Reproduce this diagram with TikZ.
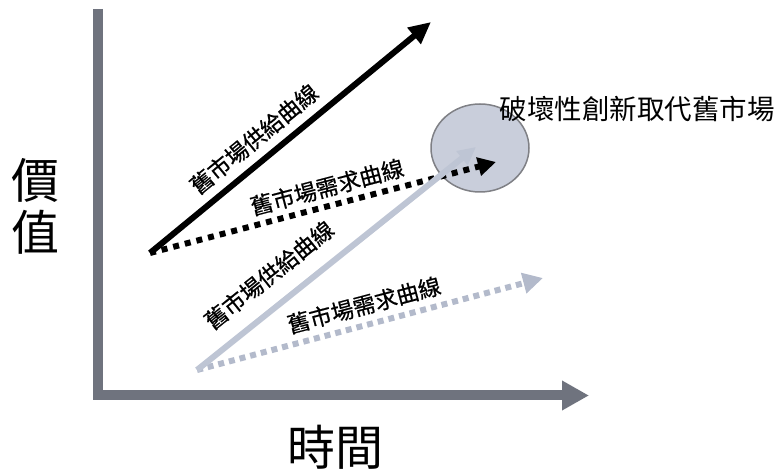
\documentclass[tikz,border=0pt]{standalone}
\usepackage{fontspec}
\setmainfont{Noto Sans CJK TC}
\newfontfamily\curvefont[FakeBold=0.6]{Noto Sans CJK TC}
\usetikzlibrary{arrows.meta,shapes.geometric}
\definecolor{axisgray}{HTML}{6F737E}
\definecolor{lightline}{HTML}{BEC5D4}
\definecolor{lightdot}{HTML}{B3BACB}
\definecolor{circfill}{HTML}{C9CEDB}
\definecolor{circline}{HTML}{7F8085}
\begin{document}
\begin{tikzpicture}[x=1pt,y=-1pt,
  axis/.style={draw=axisgray,line width=10pt,miter limit=10,line join=miter,
    -{Triangle[length=27pt,width=28pt]}},
  blackarrow/.style={draw=black,line width=6pt,-{Triangle[length=22pt,width=20pt]}},
  blackdots/.style={draw=black,line width=6pt,dash pattern=on 6pt off 6pt,
    -{Triangle[length=18pt,width=18pt]}},
  lightarrow/.style={draw=lightline,line width=6pt,-{Triangle[length=18pt,width=17pt]}},
  lightdots/.style={draw=lightdot,line width=6pt,dash pattern=on 6pt off 5pt,
    -{Triangle[length=20pt,width=20pt]}},
  curvelabel/.style={font=\curvefont\fontsize{22.5}{24}\selectfont,inner sep=0pt},
  biglabel/.style={font=\fontsize{48}{52}\selectfont,inner sep=0pt,align=center}
]
\useasboundingbox (0,0) rectangle (777,470);
% axes
\coordinate (ytop) at (97.5,9);
\coordinate (orig) at (97.5,395.5);
\coordinate (xend) at (589,395.5);
\draw[axis] (ytop) -- (orig) -- (xend);
% circle
\node[draw=circline,fill=circfill,line width=1.5pt,ellipse,minimum width=98pt,minimum height=88pt,inner sep=0pt] (circ) at (480,148) {};
% curve end points
\coordinate (s1) at (150,253);
\coordinate (e1) at (431,22);
\coordinate (e2) at (496,162);
\coordinate (s2) at (197,370);
\coordinate (e3) at (476,147);
\coordinate (e4) at (543,278);
\draw[blackarrow] (s1) -- (e1);
\draw[blackdots] (s1) -- (e2);
\draw[lightdots] (s2) -- (e4);
\draw[lightarrow] (s2) -- (e3);
% labels
\node[curvelabel,rotate=39.4] (l1) at (254,139) {舊市場供給曲線};
\node[curvelabel,rotate=14.8] (l2) at (327,187) {舊市場需求曲線};
\node[curvelabel,rotate=38.6] (l3) at (269,275) {舊市場供給曲線};
\node[curvelabel,rotate=14.9] (l4) at (364,305) {舊市場需求曲線};
\node[font=\fontsize{27.5}{29}\selectfont,inner sep=0pt] (title) at (637,109) {破壞性創新取代舊市場};
\node[biglabel] (yl) at (35,206) {價\\值};
\node[biglabel] (xl) at (335,447) {時間};
\end{tikzpicture}
\end{document}
